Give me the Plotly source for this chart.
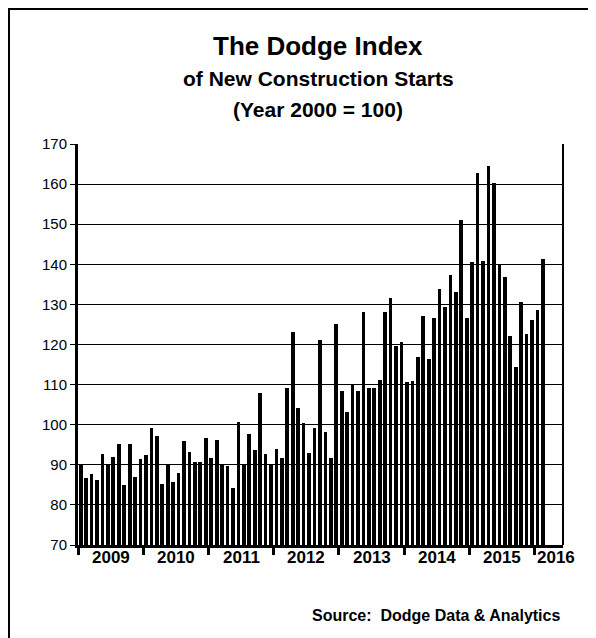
import plotly.graph_objects as go

values = [
    90, 86.7, 87.6, 86.1, 92.8, 90, 91.9, 95.3, 84.9, 95.3, 86.9, 91.4,
    92.4, 99.3, 97.1, 85.1, 90, 85.8, 88, 95.9, 93.3, 90.8, 90.6, 96.8,
    91.7, 96.3, 90.3, 89.6, 84.3, 100.6, 90, 97.6, 93.8, 107.8, 92.8, 90.3,
    93.9, 91.8, 109.1, 123.2, 104.1, 100.4, 92.9, 99.1, 121, 98.3, 91.8, 125,
    108.5, 103.1, 110, 108.3, 128.2, 109.2, 109.1, 111.2, 128, 131.7, 119.6, 120.5,
    110.6, 111, 117, 127, 116.5, 126.5, 133.8, 129.3, 137.4, 133.2, 151, 126.5,
    140.5, 162.7, 140.9, 164.6, 160.2, 140, 136.8, 122, 114.5, 130.7, 122.5, 126,
    128.5, 141.2,
]
years = ["2009", "2010", "2011", "2012", "2013", "2014", "2015", "2016"]
y_ticks = list(range(70, 171, 10))

W, H = 596, 638
L, R, T, B = 70, 41, 136, 101
pw, ph = W - L - R, H - T - B

xs = [i + 0.5 for i in range(len(values))]
fig = go.Figure(go.Bar(x=xs, y=[v - 70 for v in values], base=70, width=0.68,
                       marker=dict(color="black", line=dict(width=0))))

def fx(px):
    return (px - L) / pw

def fy(py):
    return (H - py - B) / ph

ann = []
for k, yr in enumerate(years):
    xpos = 12 * k + 6 if k < 7 else 87.9
    ann.append(dict(x=xpos, y=0, xref="x", yref="paper", yshift=-24, text="<b>" + yr + "</b>",
                    showarrow=False, font=dict(size=17, family="Arial", color="black")))
ann += [
    dict(x=fx(310), y=fy(38), text="<b>The Dodge Index</b>", font=dict(size=26, family="Arial", color="black")),
    dict(x=fx(310), y=fy(70), text="<b>of New Construction Starts</b>", font=dict(size=21, family="Arial", color="black")),
    dict(x=fx(310), y=fy(101), text="<b>(Year 2000 = 100)</b>", font=dict(size=21, family="Arial", color="black")),
    dict(x=fx(554), y=fy(607), xanchor="right", text="<b>Source:  Dodge Data &amp; Analytics</b>",
         font=dict(size=16, family="Arial", color="black")),
]
for a in ann[len(years):]:
    a.update(xref="paper", yref="paper", yanchor="middle", showarrow=False)

shapes = [
    dict(type="rect", xref="paper", yref="paper",
         x0=fx(1), x1=fx(W - 1), y0=fy(H - 1), y1=fy(1), line=dict(color="black", width=2)),
    dict(type="line", xref="paper", yref="paper", x0=1, x1=1, y0=0, y1=1,
         line=dict(color="black", width=2)),
]

fig.update_layout(
    width=W, height=H, margin=dict(l=L, r=R, t=T, b=B, autoexpand=False),
    paper_bgcolor="white", plot_bgcolor="white", showlegend=False,
    bargap=0,
    xaxis=dict(range=[0, 89.2], tickmode="array", tickvals=[12 * k for k in range(8)],
               ticktext=[""] * 8, ticks="outside", ticklen=7, tickwidth=3, tickcolor="black",
               showgrid=False, showline=True, linecolor="black", linewidth=3,
               zeroline=False, automargin=False),
    yaxis=dict(range=[70, 170], tickmode="array", tickvals=y_ticks, ticks="outside",
               ticklen=5, tickcolor="black", showgrid=True, gridcolor="black", gridwidth=1,
               showline=True, linecolor="black", linewidth=3, zeroline=False, automargin=False,
               tickfont=dict(size=15, family="Arial", color="black")),
    annotations=ann, shapes=shapes,
)
fig.write_html("out.html")
